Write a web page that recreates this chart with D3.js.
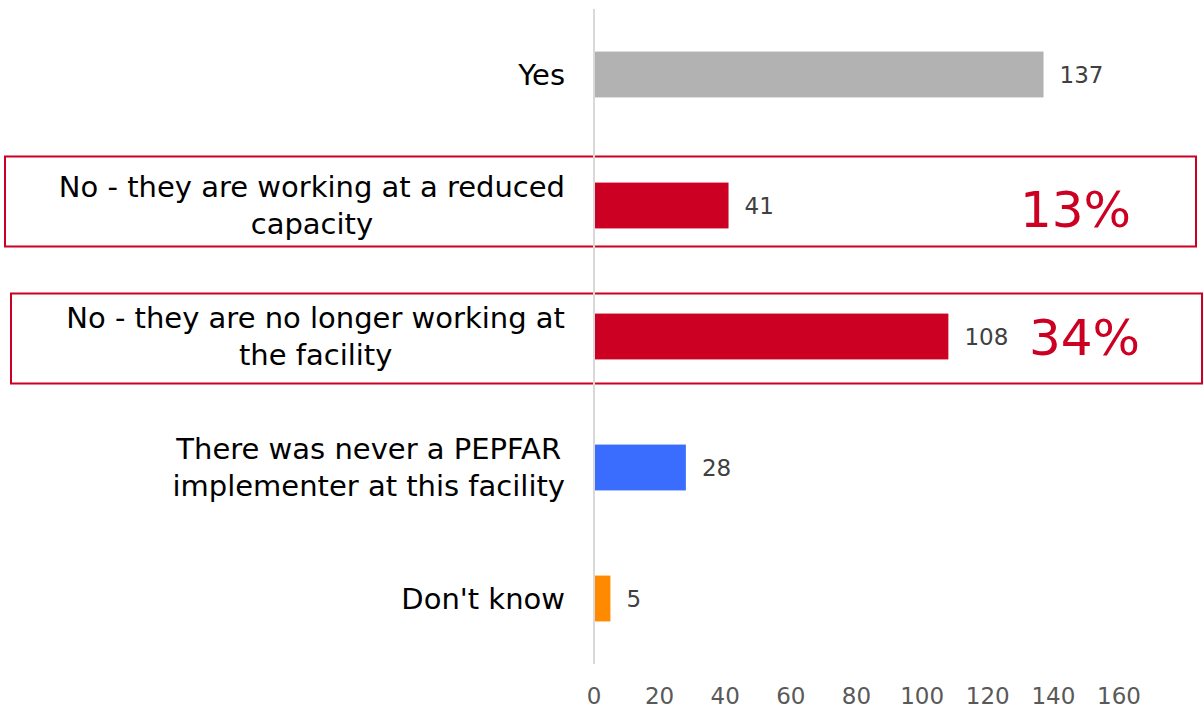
<!DOCTYPE html>
<html><head><meta charset="utf-8">
<script src="https://cdn.jsdelivr.net/npm/d3@7"></script>
<style>body{margin:0;background:#fff}svg{display:block}text{font-family:"DejaVu Sans",Verdana,sans-serif}</style>
</head><body><svg id="c" width="1204" height="714"></svg>
<script>
const categories = [["Yes"],["No - they are working at a reduced","capacity"],["No - they are no longer working at","the facility"],["There was never a PEPFAR","implementer at this facility"],["Don't know"]];
const values = [137, 41, 108, 28, 5];
const colors = ["#b2b2b2", "#cc0022", "#cc0022", "#3a6dfe", "#ff8a00"];
const ticks = [0, 20, 40, 60, 80, 100, 120, 140, 160];
const highlights = [{idx:1, pct:"13%"}, {idx:2, pct:"34%"}];

const svg = d3.select("#c");
const x = d3.scaleLinear().domain([0,160]).range([594,1119]);
const y = d3.scaleBand().domain(d3.range(values.length)).range([9,664]).paddingInner(0.65).paddingOuter(0.325);

const boxes = [{x0:5,x1:1196,dy:-49},{x0:11,x1:1202,dy:-43}];
highlights.forEach((h,i)=>{
  const cy = y(h.idx)+y.bandwidth()/2;
  svg.append("rect").attr("x",boxes[i].x0).attr("y",cy+boxes[i].dy).attr("width",boxes[i].x1-boxes[i].x0).attr("height",90)
    .attr("fill","none").attr("stroke","#cc0022").attr("stroke-width",2);
});

svg.append("line").attr("x1",x(0)).attr("x2",x(0)).attr("y1",9).attr("y2",664).attr("stroke","#d9d9d9").attr("stroke-width",2);

svg.selectAll(".bar").data(values).join("rect")
  .attr("x",x(0)+1).attr("y",(d,i)=>y(i)).attr("width",d=>x(d)-x(0)-1).attr("height",y.bandwidth())
  .attr("fill",(d,i)=>colors[i]);

svg.selectAll(".val").data(values).join("text")
  .attr("x",d=>x(d)+16).attr("y",(d,i)=>y(i)+y.bandwidth()/2+8)
  .attr("font-size",23).attr("fill","#404040").text(d=>d);

categories.forEach((lines,i)=>{
  const cy = y(i)+y.bandwidth()/2;
  const lh = 37;
  const n = lines.length;
  const ts = lines.map((l,j)=> svg.append("text").attr("font-size",29).attr("fill","#000")
      .attr("y", cy + 10 + (j-(n-1)/2)*lh).text(l));
  const maxW = d3.max(ts, t=>t.node().getComputedTextLength());
  ts.forEach(t=>t.attr("text-anchor","middle").attr("x",565-maxW/2));
});

const pctX = [1020, 1029];
highlights.forEach((h,i)=>{
  const cy = y(h.idx)+y.bandwidth()/2;
  svg.append("text").attr("x",pctX[i]).attr("y",cy+(i===0?21:18)).attr("font-size",50).attr("fill","#cc0022").text(h.pct);
});

svg.selectAll(".tick").data(ticks).join("text")
  .attr("x",d=>x(d)).attr("y",704).attr("text-anchor","middle").attr("font-size",23).attr("fill","#595959").text(d=>d);
</script></body></html>
